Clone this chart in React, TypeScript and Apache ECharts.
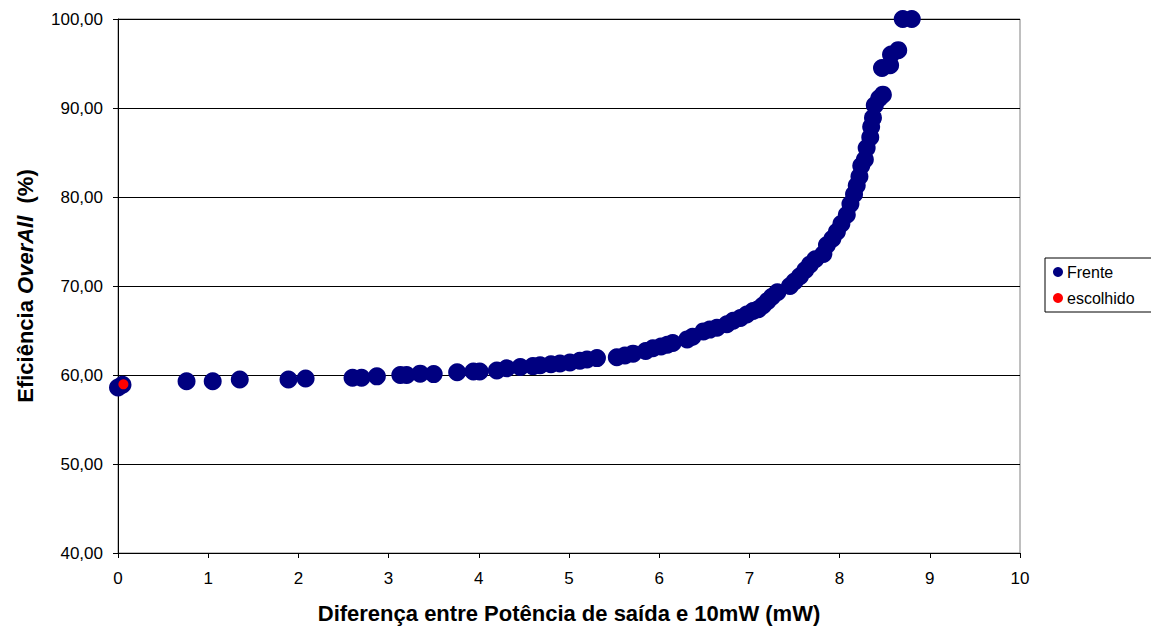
import React, { useEffect, useRef } from "react";
import * as echarts from "echarts";

const frenteX = [
  0.0, 0.05, 0.76, 1.05, 1.35, 1.89, 2.08, 2.6, 2.7, 2.87, 3.13, 3.2, 3.35, 3.5, 3.76, 3.94, 4.01,
  4.2, 4.31, 4.46, 4.6, 4.68, 4.8, 4.9, 5.01, 5.12, 5.2, 5.31, 5.53, 5.62, 5.71, 5.85, 5.93, 6.02,
  6.09, 6.15, 6.31, 6.37, 6.49, 6.56, 6.64, 6.75, 6.82, 6.9, 6.97, 7.04, 7.1, 7.15, 7.2, 7.25, 7.31,
  7.45, 7.5, 7.56, 7.62, 7.67, 7.73, 7.82, 7.86, 7.92, 7.97, 8.02, 8.08, 8.12, 8.16, 8.19, 8.22,
  8.24, 8.28, 8.3, 8.34, 8.35, 8.37, 8.39, 8.44, 8.48, 8.47, 8.56, 8.57, 8.65, 8.7, 8.8,
];
const frenteY = [
  58.6, 58.9, 59.3, 59.3, 59.5, 59.5, 59.6, 59.7, 59.7, 59.85, 60.0, 60.0, 60.15, 60.1, 60.3, 60.4,
  60.4, 60.5, 60.75, 60.9, 61.0, 61.1, 61.2, 61.3, 61.4, 61.6, 61.75, 61.9, 62.0, 62.2, 62.4, 62.7,
  63.0, 63.2, 63.4, 63.6, 64.0, 64.3, 64.9, 65.1, 65.3, 65.7, 66.1, 66.4, 66.8, 67.2, 67.4, 67.8,
  68.3, 68.8, 69.3, 70.0, 70.5, 71.1, 71.8, 72.4, 73.0, 73.6, 74.6, 75.3, 76.1, 77.0, 78.0, 79.2,
  80.3, 81.3, 82.3, 83.5, 84.2, 85.5, 86.7, 87.9, 88.9, 90.3, 91.1, 91.5, 94.5, 94.8, 96.0, 96.5,
  100.0, 100.0,
];
const escolhidoX = [0.06];
const escolhidoY = [58.95];

const seriesNames = ["Frente", "escolhido"];
const xTitle = "Diferença entre Potência de saída e 10mW (mW)";

const FONT = 'Arial, "Liberation Sans", sans-serif';

export default function App() {
  const ref = useRef<HTMLDivElement>(null);
  useEffect(() => {
    if (!ref.current) return;
    const chart = echarts.init(ref.current, undefined, { renderer: "svg" });
    chart.setOption({
      animation: false,
      backgroundColor: "#ffffff",
      textStyle: { fontFamily: FONT },
      grid: {
        left: 118,
        right: 131,
        top: 19,
        bottom: 75,
        show: true,
        borderColor: "#808080",
        borderWidth: 1,
      },
      legend: {
        orient: "vertical",
        left: 1045,
        top: 258,
        width: 110,
        padding: [6, 20, 6, 8],
        itemGap: 10,
        itemWidth: 10,
        itemHeight: 10,
        itemStyle: { borderWidth: 0 },
        borderColor: "#000",
        borderWidth: 1,
        icon: "circle",
        textStyle: { fontFamily: FONT, fontSize: 16, color: "#000", padding: [0, 0, 0, -1] },
        data: seriesNames,
      },
      xAxis: {
        type: "value",
        min: 0,
        max: 10,
        interval: 1,
        name: xTitle,
        nameLocation: "middle",
        nameGap: 49,
        nameTextStyle: { fontFamily: FONT, fontSize: 22, fontWeight: "bold", color: "#000" },
        axisLine: { show: true, onZero: false, lineStyle: { color: "#000", width: 1 } },
        axisTick: { show: true, length: 5, lineStyle: { color: "#000" } },
        axisLabel: { fontFamily: FONT, fontSize: 17, color: "#000", margin: 17 },
        splitLine: { show: false },
      },
      yAxis: {
        type: "value",
        min: 40,
        max: 100,
        interval: 10,
        name: "{n|Eficiência }{i|OverAll}{n|  (%)}",
        nameLocation: "middle",
        nameRotate: 90,
        nameGap: 82,
        nameTextStyle: {
          fontFamily: FONT,
          fontSize: 22,
          fontWeight: "bold",
          color: "#000",
          rich: {
            n: { fontFamily: FONT, fontSize: 22, fontWeight: "bold", color: "#000" },
            i: { fontFamily: FONT, fontSize: 22, fontWeight: "bold", fontStyle: "italic", color: "#000" },
          },
        },
        axisLine: { show: true, lineStyle: { color: "#000", width: 1 } },
        axisTick: { show: true, length: 5, lineStyle: { color: "#000" } },
        axisLabel: {
          fontFamily: FONT,
          fontSize: 17,
          color: "#000",
          margin: 15,
          formatter: (v: number) => v.toFixed(2).replace(".", ","),
        },
        splitLine: { show: true, lineStyle: { color: "#000", width: 1 } },
      },
      series: [
        {
          name: seriesNames[0],
          type: "scatter",
          symbol: "circle",
          symbolSize: 18,
          itemStyle: { color: "#000080", opacity: 1 },
          data: frenteX.map((x, i) => [x, frenteY[i]]),
          z: 2,
        },
        {
          name: seriesNames[1],
          type: "scatter",
          symbol: "circle",
          symbolSize: 10,
          itemStyle: { color: "#ff0000", opacity: 1 },
          data: escolhidoX.map((x, i) => [x, escolhidoY[i]]),
          z: 3,
        },
      ],
    });
    return () => chart.dispose();
  }, []);
  return <div ref={ref} style={{ width: 1151, height: 629, position: "absolute", left: 0, top: 0 }} />;
}
